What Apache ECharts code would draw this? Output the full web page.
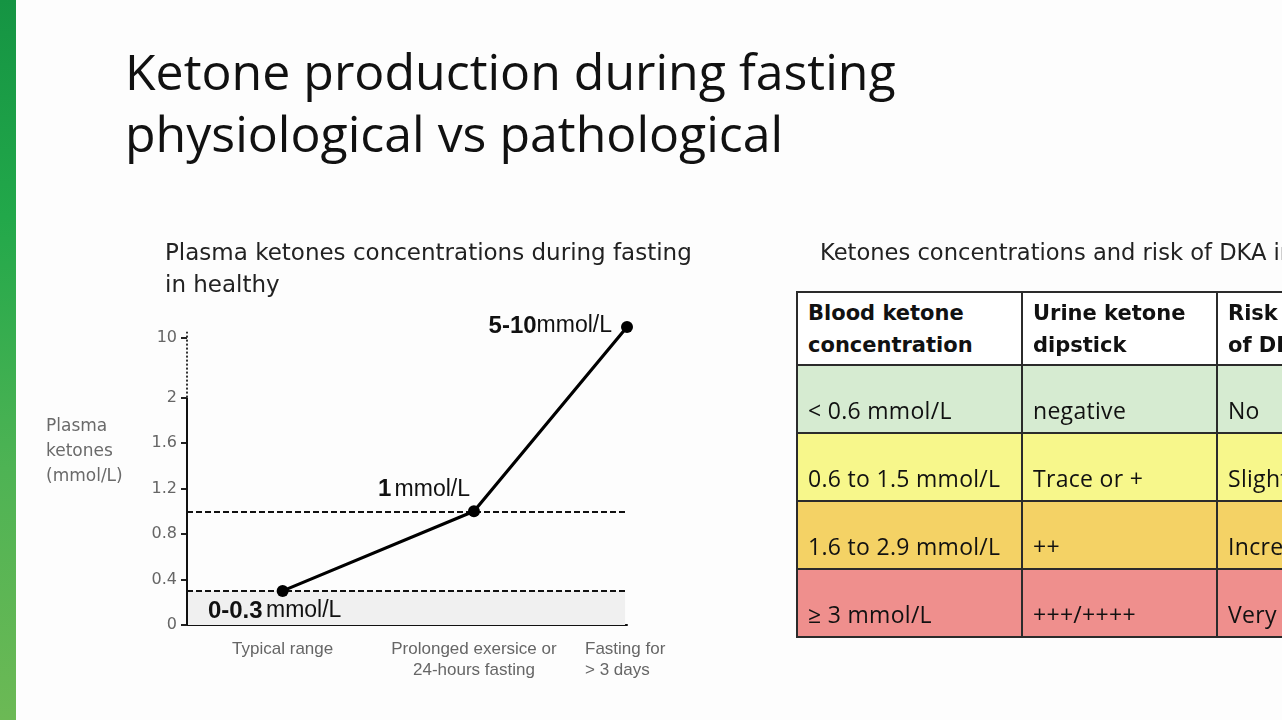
<!DOCTYPE html>
<html lang="en">
<head>
  <meta charset="utf-8">
  <title>Ketone production during fasting</title>
  <script src="https://cdn.jsdelivr.net/npm/echarts@6.0.0/dist/echarts.min.js"></script>
  <style>
    html, body { margin: 0; padding: 0; width: 1282px; height: 720px; overflow: hidden; background: #fdfdfd; }
    #bar { position: absolute; left: 0; top: 0; width: 16px; height: 720px;
           background: linear-gradient(180deg, #159443 0%, #22a84a 30%, #4eb354 65%, #6cb955 100%); }
    #chart { position: absolute; left: 0; top: 0; width: 1282px; height: 720px; }
    #dka { position: absolute; left: 796px; top: 291px; width: 640px; border-collapse: collapse; table-layout: fixed;
           font-family: "Open Sans", "Noto Sans", sans-serif; font-size: 23px; letter-spacing: 0.3px; color: #111; }
    #dka td, #dka th { border: 2px solid #2b2b2b; padding: 0 10px; white-space: nowrap; overflow: hidden; box-sizing: border-box; }
    #dka th { font-family: "DejaVu Sans", sans-serif; font-weight: bold; font-size: 21px; letter-spacing: 0; text-align: left;
              vertical-align: top; height: 73px; padding-top: 4px; line-height: 32px; background: #fff; }
    #dka td { height: 68px; vertical-align: bottom; padding-bottom: 6px; }
  </style>
</head>
<body>
  <div id="bar"></div>
  <div id="chart"></div>
  <table id="dka"></table>
  <script type="text/javascript">
// 曲线数据 (x位置为分类序号, y为血酮 mmol/L)
var stageNames = ['Typical range', 'Prolonged exersice or\n24-hours fasting', '{l|Fasting for}\n{l|> 3 days}'];
var stageX = [0.5, 1.5, 2.3];
var ketoneValues = [0.3, 1.0, 11.4];
var pointLabels = ['0-0.3', '1', '5-10'];
var refLines = [1.0, 0.3];
var yTicks = [0, 0.4, 0.8, 1.2, 1.6, 2, 10];

// 表格数据
var tableHead = ['Blood ketone<br>concentration', 'Urine ketone<br>dipstick', 'Risk<br>of DKA'];
var bloodKetone = ['&lt; 0.6 mmol/L', '0.6 to 1.5 mmol/L', '1.6 to 2.9 mmol/L', '&ge; 3 mmol/L'];
var urineDipstick = ['negative', 'Trace or +', '++', '+++/++++'];
var dkaRisk = ['No', 'Slight', 'Increased', 'Very high'];
var rowColors = ['#d6ebd1', '#f7f78b', '#f4d265', '#ef8f8d'];

// 断轴: 0-2 线性, 2以上压缩
var K = 0.066;
function toDisp(v) { return v <= 2 ? v : 2 + (v - 2) * K; }
function fromDisp(d) { return d <= 2.0001 ? d : 2 + (d - 2) / K; }

var html = '<colgroup><col style="width:225px"><col style="width:195px"><col style="width:220px"></colgroup><tr>';
tableHead.forEach(function (h) { html += '<th>' + h + '</th>'; });
html += '</tr>';
for (var i = 0; i < bloodKetone.length; i++) {
  html += '<tr style="background:' + rowColors[i] + '"><td>' + bloodKetone[i] + '</td><td>' + urineDipstick[i] + '</td><td>' + dkaRisk[i] + '</td></tr>';
}
document.getElementById('dka').innerHTML = html;

var lineData = stageX.map(function (x, i) { return [x, toDisp(ketoneValues[i])]; });
var labelPos = [
  { position: 'bottom', distance: 2, offset: [-8, 0] },
  { position: 'top', distance: 4, offset: [-50, 0] },
  { position: 'left', distance: 9, offset: [0, -1] }
];
var seriesData = lineData.map(function (p, i) {
  return {
    value: p,
    label: {
      show: true, position: labelPos[i].position, distance: labelPos[i].distance, offset: labelPos[i].offset,
      formatter: '{b|' + pointLabels[i] + '}' + (i === 2 ? '' : ' ') + '{n|mmol/L}'
    }
  };
});
var xEnd = 2.29;
var myChart = echarts.init(document.getElementById('chart'));
var option = {
  animation: false,
  title: [
    { text: 'Ketone production during fasting\nphysiological vs pathological', left: 120, top: 40,
      textStyle: { fontFamily: 'Open Sans', fontWeight: 'normal', fontSize: 50, lineHeight: 62, color: '#111' } },
    { text: 'Plasma ketones concentrations during fasting\nin healthy', left: 160, top: 233,
      textStyle: { fontFamily: 'DejaVu Sans', fontWeight: 'normal', fontSize: 23, lineHeight: 32, color: '#222' } },
    { text: 'Ketones concentrations and risk of DKA in', left: 815, top: 233,
      textStyle: { fontFamily: 'DejaVu Sans', fontWeight: 'normal', fontSize: 22.6, lineHeight: 32, color: '#222' } }
  ],
  graphic: [
    { type: 'text', left: 46, top: 414,
      style: { text: 'Plasma\nketones\n(mmol/L)', fill: '#6a6a6a', font: '17px "DejaVu Sans"', lineHeight: 25 } }
  ],
  grid: { left: 187, right: 655, top: 318, bottom: 95 },
  xAxis: {
    type: 'value', min: 0, max: 2.3,
    axisLine: { show: true, onZero: false, lineStyle: { color: '#111', width: 2 } },
    axisTick: { show: false },
    splitLine: { show: false },
    axisLabel: {
      customValues: stageX, margin: 14, color: '#666', fontSize: 17, lineHeight: 21,
      fontFamily: 'Liberation Sans',
      rich: { l: { width: 84, align: 'left', color: '#666', fontSize: 17, lineHeight: 21, fontFamily: 'Liberation Sans' } },
      formatter: function (v) { return stageNames[stageX.indexOf(v)]; }
    }
  },
  yAxis: {
    type: 'value', min: 0, max: 2.7,
    axisLine: { show: false },
    splitLine: { show: false },
    axisTick: { show: true, length: 6, customValues: yTicks.map(toDisp), lineStyle: { color: '#222', width: 2 } },
    axisLabel: {
      customValues: yTicks.map(toDisp), margin: 10, color: '#666', fontSize: 16, fontFamily: 'DejaVu Sans',
      formatter: function (v) { return String(Math.round(fromDisp(v) * 10) / 10); }
    }
  },
  series: [{
    type: 'line',
    data: seriesData,
    symbol: 'circle', symbolSize: 12, z: 5,
    itemStyle: { color: '#000' },
    lineStyle: { color: '#000', width: 3.2 },
    label: {
      color: '#111',
      rich: {
        b: { fontFamily: 'Liberation Sans', fontWeight: 'bold', fontSize: 24, color: '#111' },
        n: { fontFamily: 'Liberation Sans', fontSize: 23, color: '#111' }
      }
    },
    markArea: {
      silent: true,
      itemStyle: { color: '#f0f0f0' },
      data: [[{ coord: [0, 0] }, { coord: [xEnd, toDisp(refLines[1])] }]]
    },
    markLine: {
      silent: true, symbol: 'none', label: { show: false },
      data: [
        [{ coord: [0, toDisp(refLines[0])], lineStyle: { type: [6, 3], color: '#111', width: 2 } }, { coord: [xEnd, toDisp(refLines[0])] }],
        [{ coord: [0, toDisp(refLines[1])], lineStyle: { type: [6, 3], color: '#111', width: 2 } }, { coord: [xEnd, toDisp(refLines[1])] }],
        [{ coord: [0, 0], lineStyle: { type: 'solid', color: '#111', width: 2 } }, { coord: [0, 2] }],
        [{ coord: [0, 2], lineStyle: { type: [2, 2], color: '#333', width: 2 } }, { coord: [0, toDisp(10) + 0.05] }]
      ]
    }
  }]
};
myChart.setOption(option);
  </script>
</body>
</html>
